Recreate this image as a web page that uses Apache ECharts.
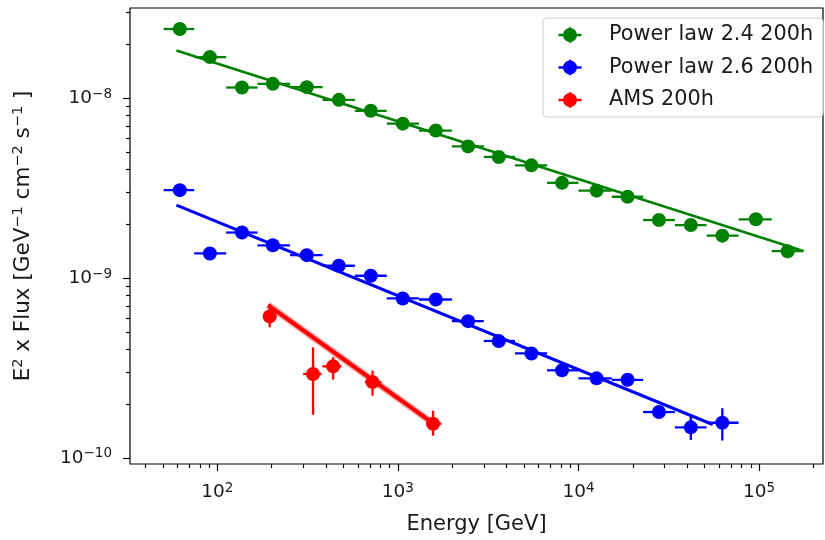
<!DOCTYPE html>
<html>
<head>
<meta charset="utf-8">
<script src="https://cdn.jsdelivr.net/npm/echarts@6/dist/echarts.min.js"></script>
<style>
  html, body { margin: 0; padding: 0; background: #ffffff; }
  #chart { width: 825px; height: 540px; }
</style>
</head>
<body>
<div id="chart"></div>
<script>
// Energy bins shared by both power-law simulations (GeV)
const energies = [62, 91, 137, 203, 313, 471, 708, 1064, 1622, 2448, 3620, 5490,
                  8110, 12600, 18700, 27900, 41900, 62600, 96000, 144000];
const binEdges = [50.5, 74.5, 112, 167, 253, 383, 578, 868, 1310, 1990, 2990, 4450,
                  6700, 10000, 15300, 22800, 34200, 51200, 77000, 117500, 176500];

// Power law 2.4, 200h: E^2 x flux and its 1-sigma error
const pl24Flux = [2.42e-8, 1.69e-8, 1.145e-8, 1.20e-8, 1.15e-8, 9.78e-9, 8.50e-9, 7.21e-9,
                  6.60e-9, 5.39e-9, 4.71e-9, 4.23e-9, 3.38e-9, 3.06e-9, 2.83e-9, 2.10e-9,
                  1.97e-9, 1.72e-9, 2.12e-9, 1.41e-9];
const pl24Err  = [6e-10, 4e-10, 3e-10, 3e-10, 3e-10, 2.5e-10, 2e-10, 2e-10, 2e-10, 1.5e-10,
                  1.3e-10, 1.2e-10, 1e-10, 1e-10, 1e-10, 1e-10, 1e-10, 1e-10, 1.5e-10, 1.2e-10];

// Power law 2.6, 200h
const pl26Flux = [3.08e-9, 1.37e-9, 1.79e-9, 1.52e-9, 1.34e-9, 1.17e-9, 1.03e-9, 7.7e-10,
                  7.6e-10, 5.76e-10, 4.47e-10, 3.81e-10, 3.07e-10, 2.77e-10, 2.72e-10,
                  1.80e-10, 1.48e-10, 1.57e-10];
const pl26Err  = [8e-11, 5e-11, 5e-11, 4e-11, 3.5e-11, 3e-11, 3e-11, 2.5e-11, 2.5e-11, 2e-11,
                  1.8e-11, 1.7e-11, 1.6e-11, 1.5e-11, 1.8e-11, 1.3e-11, 2.2e-11, 3.2e-11];

// AMS, 200h
const amsEnergy = [195, 339, 438, 724, 1566];
const amsXLow   = [179, 299, 382, 656, 1440];
const amsXHigh  = [213, 378, 487, 811, 1743];
const amsFlux   = [6.12e-10, 2.93e-10, 3.23e-10, 2.64e-10, 1.55e-10];
const amsYLow   = [5.32e-10, 1.74e-10, 2.73e-10, 2.22e-10, 1.33e-10];
const amsYHigh  = [7.16e-10, 4.12e-10, 3.63e-10, 3.06e-10, 1.83e-10];

// Fitted power laws: end points [energy, E^2 x flux]
const fit24 = [[59.4, 1.84e-8], [175800, 1.413e-9]];
const fit26 = [[59.4, 2.54e-9], [55400, 1.535e-10]];
const fitAms = [[191, 7.07e-10], [1535, 1.58e-10]];

// Axis ranges and tick values
const xRange = [32.86, 226000];
const yRange = [9.26e-11, 3.167e-8];
const xMajor = [1e2, 1e3, 1e4, 1e5];
const yMajor = [1e-10, 1e-9, 1e-8];
const xMinor = [40, 50, 60, 70, 80, 90, 200, 300, 400, 500, 600, 700, 800, 900,
                2000, 3000, 4000, 5000, 6000, 7000, 8000, 9000,
                20000, 30000, 40000, 50000, 60000, 70000, 80000, 90000, 200000];
const yMinor = [2e-10, 3e-10, 4e-10, 5e-10, 6e-10, 7e-10, 8e-10, 9e-10,
                2e-9, 3e-9, 4e-9, 5e-9, 6e-9, 7e-9, 8e-9, 9e-9, 2e-8, 3e-8];

const names = ['Power law 2.4 200h', 'Power law 2.6 200h', 'AMS 200h'];
const colors = ['#008000', '#0000ff', '#ff0000'];

const FONT = 'DejaVu Sans';
const INK = '#1a1a1a';

// rows: [E, flux, xLow, xHigh, yLow, yHigh]
function binnedRows(flux, err) {
  return flux.map((f, i) => [energies[i], f, binEdges[i], binEdges[i + 1], f - err[i], f + err[i]]);
}
const rows24 = binnedRows(pl24Flux, pl24Err);
const rows26 = binnedRows(pl26Flux, pl26Err);
const rowsAms = amsEnergy.map((e, i) => [e, amsFlux[i], amsXLow[i], amsXHigh[i], amsYLow[i], amsYHigh[i]]);

// Marker with horizontal and vertical error bars
function errorBar(params, api) {
  const x = api.value(0), y = api.value(1);
  const c = api.coord([x, y]);
  const l = api.coord([api.value(2), y]);
  const r = api.coord([api.value(3), y]);
  const b = api.coord([x, api.value(4)]);
  const t = api.coord([x, api.value(5)]);
  const color = api.visual('color');
  return {
    type: 'group',
    children: [
      { type: 'line', shape: { x1: l[0], y1: l[1], x2: r[0], y2: r[1] }, style: { stroke: color, lineWidth: 2.3 } },
      { type: 'line', shape: { x1: b[0], y1: b[1], x2: t[0], y2: t[1] }, style: { stroke: color, lineWidth: 2.3 } },
      { type: 'circle', shape: { cx: c[0], cy: c[1], r: 7 }, style: { fill: color } }
    ]
  };
}

function supLabel(v) {
  const p = Math.round(Math.log10(v));
  return '{b|10}{s|' + (p < 0 ? '\u2212' + (-p) : p) + '}';
}

// legend glyph: dot with crossing error bars, right side left empty as spacing
const legendIcon = 'path://M5,12 A7,7 0 1 1 19,12 A7,7 0 1 1 5,12 Z ' +
  'M10.8,4.2 L13.2,4.2 L13.2,19.8 L10.8,19.8 Z M0.5,10.8 L23.5,10.8 L23.5,13.2 L0.5,13.2 Z ' +
  'M46,0 L46,0.01 L45.99,0.01 Z M0,24 L0,23.99 L0.01,23.99 Z';

const tickLine = { color: '#000', width: 1.2 };

const option = {
  animation: false,
  backgroundColor: '#ffffff',
  textStyle: { fontFamily: FONT },
  grid: { left: 130, right: 2, top: 8, bottom: 75, show: true, borderColor: '#000', borderWidth: 1.2, backgroundColor: 'transparent' },
  legend: {
    data: names,
    orient: 'vertical',
    left: 543, top: 18,
    icon: legendIcon,
    itemWidth: 46, itemHeight: 24, itemGap: 8.5,
    padding: [5, 10, 5, 15],
    backgroundColor: 'rgba(255,255,255,0.8)',
    borderColor: '#cccccc', borderWidth: 1, borderRadius: 4,
    textStyle: { fontFamily: FONT, fontSize: 20.8, color: INK }
  },
  xAxis: [
    {
      type: 'log', logBase: 10, min: xRange[0], max: xRange[1],
      name: 'Energy [GeV]', nameLocation: 'middle', nameGap: 50,
      nameTextStyle: { fontFamily: FONT, fontSize: 21, color: INK },
      axisLine: { show: false },
      splitLine: { show: false },
      axisTick: { show: true, length: 7, lineStyle: tickLine, customValues: xMajor },
      axisLabel: {
        customValues: xMajor, margin: 17, formatter: supLabel,
        rich: {
          b: { fontFamily: FONT, fontSize: 18.5, color: INK, lineHeight: 22 },
          s: { fontFamily: FONT, fontSize: 13.5, color: INK, verticalAlign: 'top', lineHeight: 14 }
        }
      }
    },
    {
      type: 'log', logBase: 10, min: xRange[0], max: xRange[1], position: 'bottom',
      axisLine: { show: false }, splitLine: { show: false }, axisLabel: { show: false },
      axisTick: { show: true, length: 4, lineStyle: tickLine, customValues: xMinor }
    }
  ],
  yAxis: [
    {
      type: 'log', logBase: 10, min: yRange[0], max: yRange[1],
      name: '{n|E}{s|2}{n| x Flux [GeV}{s|\u22121}{n| cm}{s|\u22122}{n| s}{s|\u22121}{n| ]}',
      nameLocation: 'middle', nameGap: 94, nameRotate: 90,
      nameTextStyle: {
        rich: {
          n: { fontFamily: FONT, fontSize: 21.5, color: INK, lineHeight: 25 },
          s: { fontFamily: FONT, fontSize: 14.5, color: INK, verticalAlign: 'top', lineHeight: 15 }
        }
      },
      axisLine: { show: false },
      splitLine: { show: false },
      axisTick: { show: true, length: 7, lineStyle: tickLine, customValues: yMajor },
      axisLabel: {
        customValues: yMajor, margin: 18, formatter: supLabel,
        rich: {
          b: { fontFamily: FONT, fontSize: 18.5, color: INK, lineHeight: 22 },
          s: { fontFamily: FONT, fontSize: 13.5, color: INK, verticalAlign: 'top', lineHeight: 14 }
        }
      }
    },
    {
      type: 'log', logBase: 10, min: yRange[0], max: yRange[1], position: 'left',
      axisLine: { show: false }, splitLine: { show: false }, axisLabel: { show: false },
      axisTick: { show: true, length: 4, lineStyle: tickLine, customValues: yMinor }
    }
  ],
  series: [
    { name: names[0], type: 'custom', renderItem: errorBar, data: rows24, itemStyle: { color: colors[0] },
      encode: { x: 0, y: 1 }, z: 2 },
    { name: names[1], type: 'custom', renderItem: errorBar, data: rows26, itemStyle: { color: colors[1] },
      encode: { x: 0, y: 1 }, z: 2 },
    { name: names[2], type: 'custom', renderItem: errorBar, data: rowsAms, itemStyle: { color: colors[2] },
      encode: { x: 0, y: 1 }, z: 2 },
    { name: 'fit 2.4', type: 'line', data: fit24, showSymbol: false, silent: true, z: 3,
      lineStyle: { color: colors[0], width: 2.6 } },
    { name: 'fit 2.6', type: 'line', data: fit26, showSymbol: false, silent: true, z: 3,
      lineStyle: { color: colors[1], width: 3 } },
    { name: 'fit AMS band', type: 'line', data: fitAms, showSymbol: false, silent: true, z: 3,
      lineStyle: { color: colors[2], width: 7, opacity: 0.35 } },
    { name: 'fit AMS', type: 'line', data: fitAms, showSymbol: false, silent: true, z: 3,
      lineStyle: { color: colors[2], width: 4 } }
  ]
};

const chart = echarts.init(document.getElementById('chart'), null, { renderer: 'canvas' });
chart.setOption(option);
</script>
</body>
</html>
